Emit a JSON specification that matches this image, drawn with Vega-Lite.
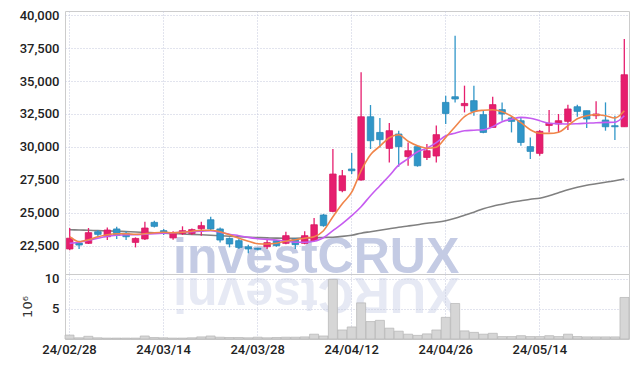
{
  "$schema": "https://vega.github.io/schema/vega-lite/v6.json",
  "padding": {"left": 18, "top": 8, "right": 8, "bottom": 4},
  "background": "white",
  "bounds": "flush",
  "data": {"values": [
    {"date": "24/02/28", "open": 22250, "high": 23850, "low": 22150, "close": 23070, "ma5": 23183, "ma20": 22675, "ma60": 23715, "vol": 0.65},
    {"date": "24/02/29", "open": 22700, "high": 22880, "low": 22250, "close": 22550, "ma5": 22804, "ma20": 22766, "ma60": 23692, "vol": 0.2},
    {"date": "24/03/04", "open": 22680, "high": 23840, "low": 22630, "close": 23490, "ma5": 22956, "ma20": 22918, "ma60": 23669, "vol": 0.45},
    {"date": "24/03/05", "open": 23560, "high": 23690, "low": 23130, "close": 23360, "ma5": 23183, "ma20": 23069, "ma60": 23646, "vol": 0.2},
    {"date": "24/03/06", "open": 23180, "high": 23890, "low": 22930, "close": 23690, "ma5": 23335, "ma20": 23221, "ma60": 23624, "vol": 0.15},
    {"date": "24/03/07", "open": 23770, "high": 23940, "low": 23010, "close": 23280, "ma5": 23411, "ma20": 23297, "ma60": 23601, "vol": 0.15},
    {"date": "24/03/08", "open": 23430, "high": 23590, "low": 22930, "close": 23180, "ma5": 23411, "ma20": 23335, "ma60": 23570, "vol": 0.15},
    {"date": "24/03/11", "open": 22750, "high": 23130, "low": 22370, "close": 23050, "ma5": 23373, "ma20": 23335, "ma60": 23540, "vol": 0.15},
    {"date": "24/03/12", "open": 23010, "high": 24320, "low": 22930, "close": 23840, "ma5": 23411, "ma20": 23373, "ma60": 23510, "vol": 0.5},
    {"date": "24/03/13", "open": 24270, "high": 24400, "low": 23890, "close": 23970, "ma5": 23487, "ma20": 23411, "ma60": 23479, "vol": 0.25},
    {"date": "24/03/14", "open": 23640, "high": 23770, "low": 23310, "close": 23430, "ma5": 23525, "ma20": 23449, "ma60": 23449, "vol": 0.2},
    {"date": "24/03/15", "open": 23090, "high": 23590, "low": 22960, "close": 23430, "ma5": 23487, "ma20": 23487, "ma60": 23419, "vol": 0.15},
    {"date": "24/03/18", "open": 23430, "high": 23970, "low": 23310, "close": 23640, "ma5": 23525, "ma20": 23525, "ma60": 23388, "vol": 0.15},
    {"date": "24/03/19", "open": 23430, "high": 23810, "low": 23310, "close": 23720, "ma5": 23601, "ma20": 23563, "ma60": 23358, "vol": 0.2},
    {"date": "24/03/20", "open": 23790, "high": 24320, "low": 23260, "close": 24020, "ma5": 23677, "ma20": 23601, "ma60": 23328, "vol": 0.35},
    {"date": "24/03/21", "open": 24470, "high": 24700, "low": 23690, "close": 23770, "ma5": 23677, "ma20": 23639, "ma60": 23290, "vol": 0.5},
    {"date": "24/03/22", "open": 23770, "high": 23890, "low": 22750, "close": 22930, "ma5": 23563, "ma20": 23525, "ma60": 23259, "vol": 0.3},
    {"date": "24/03/25", "open": 23050, "high": 23130, "low": 22370, "close": 22630, "ma5": 23335, "ma20": 23373, "ma60": 23221, "vol": 0.25},
    {"date": "24/03/26", "open": 22880, "high": 23010, "low": 22250, "close": 22370, "ma5": 23069, "ma20": 23259, "ma60": 23183, "vol": 0.25},
    {"date": "24/03/27", "open": 22420, "high": 22580, "low": 21920, "close": 22250, "ma5": 22842, "ma20": 23130, "ma60": 23145, "vol": 0.2},
    {"date": "24/03/28", "open": 22300, "high": 22350, "low": 22150, "close": 22230, "ma5": 22652, "ma20": 23031, "ma60": 23115, "vol": 0.3},
    {"date": "24/03/29", "open": 22420, "high": 22990, "low": 22250, "close": 22730, "ma5": 22629, "ma20": 22978, "ma60": 23092, "vol": 0.2},
    {"date": "24/04/01", "open": 22880, "high": 22920, "low": 22420, "close": 22500, "ma5": 22690, "ma20": 22933, "ma60": 23077, "vol": 0.25},
    {"date": "24/04/02", "open": 22680, "high": 23560, "low": 22610, "close": 23260, "ma5": 22842, "ma20": 22842, "ma60": 23069, "vol": 0.3},
    {"date": "24/04/03", "open": 23010, "high": 23070, "low": 22250, "close": 22580, "ma5": 22956, "ma20": 22766, "ma60": 23069, "vol": 0.3},
    {"date": "24/04/04", "open": 22680, "high": 23590, "low": 22610, "close": 23260, "ma5": 23069, "ma20": 22766, "ma60": 23085, "vol": 0.35},
    {"date": "24/04/05", "open": 22880, "high": 24600, "low": 22800, "close": 24090, "ma5": 23183, "ma20": 22842, "ma60": 23100, "vol": 0.8},
    {"date": "24/04/08", "open": 24830, "high": 24910, "low": 23940, "close": 24020, "ma5": 23639, "ma20": 23107, "ma60": 23123, "vol": 0.5},
    {"date": "24/04/09", "open": 25100, "high": 29840, "low": 25040, "close": 27940, "ma5": 24702, "ma20": 23639, "ma60": 23145, "vol": 9.9},
    {"date": "24/04/11", "open": 26680, "high": 28250, "low": 26550, "close": 27810, "ma5": 25689, "ma20": 24170, "ma60": 23206, "vol": 1.5},
    {"date": "24/04/12", "open": 28320, "high": 29540, "low": 27940, "close": 28190, "ma5": 26562, "ma20": 24778, "ma60": 23297, "vol": 2.0},
    {"date": "24/04/15", "open": 27490, "high": 35660, "low": 27440, "close": 32290, "ma5": 28194, "ma20": 25461, "ma60": 23449, "vol": 6.0},
    {"date": "24/04/16", "open": 32290, "high": 33180, "low": 29840, "close": 30470, "ma5": 29409, "ma20": 26296, "ma60": 23563, "vol": 2.9},
    {"date": "24/04/17", "open": 31100, "high": 32200, "low": 29960, "close": 30550, "ma5": 30054, "ma20": 27055, "ma60": 23677, "vol": 3.1},
    {"date": "24/04/18", "open": 29890, "high": 31820, "low": 28820, "close": 31230, "ma5": 30699, "ma20": 27814, "ma60": 23791, "vol": 1.8},
    {"date": "24/04/19", "open": 30980, "high": 31230, "low": 28500, "close": 30020, "ma5": 30927, "ma20": 28612, "ma60": 23905, "vol": 1.3},
    {"date": "24/04/22", "open": 29260, "high": 30340, "low": 28570, "close": 29710, "ma5": 30434, "ma20": 29105, "ma60": 23996, "vol": 0.8},
    {"date": "24/04/23", "open": 30020, "high": 30090, "low": 28500, "close": 28570, "ma5": 30092, "ma20": 29636, "ma60": 24094, "vol": 0.6},
    {"date": "24/04/24", "open": 29200, "high": 30220, "low": 29010, "close": 29710, "ma5": 29902, "ma20": 29902, "ma60": 24208, "vol": 0.85},
    {"date": "24/04/25", "open": 29310, "high": 31630, "low": 28820, "close": 30930, "ma5": 29978, "ma20": 30320, "ma60": 24284, "vol": 1.5},
    {"date": "24/04/26", "open": 33380, "high": 33890, "low": 31740, "close": 32540, "ma5": 30722, "ma20": 30851, "ma60": 24398, "vol": 3.6},
    {"date": "24/04/29", "open": 33810, "high": 38440, "low": 33380, "close": 33640, "ma5": 31534, "ma20": 31041, "ma60": 24588, "vol": 5.9},
    {"date": "24/04/30", "open": 33130, "high": 34650, "low": 32620, "close": 33300, "ma5": 32294, "ma20": 31231, "ma60": 24816, "vol": 1.35},
    {"date": "24/05/02", "open": 33510, "high": 34650, "low": 32370, "close": 32700, "ma5": 32673, "ma20": 31269, "ma60": 25043, "vol": 1.1},
    {"date": "24/05/03", "open": 32450, "high": 32750, "low": 31040, "close": 31100, "ma5": 32787, "ma20": 31307, "ma60": 25309, "vol": 0.8},
    {"date": "24/05/07", "open": 31480, "high": 33810, "low": 31460, "close": 33210, "ma5": 32825, "ma20": 31534, "ma60": 25499, "vol": 0.95},
    {"date": "24/05/08", "open": 32830, "high": 33380, "low": 31990, "close": 32500, "ma5": 32673, "ma20": 31914, "ma60": 25651, "vol": 0.4},
    {"date": "24/05/09", "open": 32200, "high": 32290, "low": 31100, "close": 31940, "ma5": 32332, "ma20": 32104, "ma60": 25803, "vol": 0.4},
    {"date": "24/05/10", "open": 31990, "high": 32200, "low": 30090, "close": 30340, "ma5": 31838, "ma20": 32241, "ma60": 25916, "vol": 0.55},
    {"date": "24/05/13", "open": 30020, "high": 30720, "low": 29080, "close": 29660, "ma5": 31307, "ma20": 32180, "ma60": 26030, "vol": 0.4},
    {"date": "24/05/14", "open": 29510, "high": 31280, "low": 29330, "close": 31180, "ma5": 31041, "ma20": 31990, "ma60": 26106, "vol": 0.4},
    {"date": "24/05/16", "open": 31630, "high": 32800, "low": 31100, "close": 31790, "ma5": 31026, "ma20": 31800, "ma60": 26296, "vol": 0.55},
    {"date": "24/05/17", "open": 31740, "high": 32500, "low": 31100, "close": 31990, "ma5": 31117, "ma20": 31762, "ma60": 26524, "vol": 0.4},
    {"date": "24/05/20", "open": 31940, "high": 33210, "low": 31280, "close": 32880, "ma5": 31610, "ma20": 31740, "ma60": 26752, "vol": 0.8},
    {"date": "24/05/21", "open": 33050, "high": 33210, "low": 32290, "close": 32700, "ma5": 32142, "ma20": 31762, "ma60": 26941, "vol": 0.4},
    {"date": "24/05/22", "open": 32750, "high": 32750, "low": 31440, "close": 32120, "ma5": 32370, "ma20": 31800, "ma60": 27093, "vol": 0.35},
    {"date": "24/05/23", "open": 32370, "high": 33460, "low": 32120, "close": 32500, "ma5": 32446, "ma20": 31838, "ma60": 27207, "vol": 0.35},
    {"date": "24/05/24", "open": 32040, "high": 33380, "low": 31230, "close": 31530, "ma5": 32370, "ma20": 31861, "ma60": 27321, "vol": 0.35},
    {"date": "24/05/27", "open": 31610, "high": 32370, "low": 30530, "close": 31530, "ma5": 32195, "ma20": 31876, "ma60": 27435, "vol": 0.35},
    {"date": "24/05/28", "open": 31530, "high": 38190, "low": 31530, "close": 35480, "ma5": 32749, "ma20": 32370, "ma60": 27564, "vol": 6.9}
  ]},
  "vconcat": [
    {
      "width": 564,
      "height": 263,
      "encoding": {
        "x": {
          "field": "date", "type": "ordinal",
          "scale": {"paddingInner": 0, "paddingOuter": 0},
          "axis": {"values": ["24/02/28", "24/03/14", "24/03/28", "24/04/12", "24/04/26", "24/05/14"], "labels": false, "title": null, "grid": true, "bandPosition": 0.5}
        }
      },
      "layer": [
        {
          "data": {"values": [{"label": "investCRUX"}]},
          "mark": {"type": "text", "align": "left", "baseline": "alphabetic", "font": "Liberation Sans", "fontWeight": "bold", "fontSize": 50, "color": "#c4cbe4"},
          "encoding": {
            "x": {"datum": "24/03/15", "type": "ordinal"},
            "y": {
              "datum": 20450, "type": "quantitative",
              "scale": {"domain": [20350, 40320], "nice": false, "zero": false},
              "axis": {"values": [22500, 25000, 27500, 30000, 32500, 35000, 37500, 40000], "tickCount": 20, "format": ",d", "title": null, "grid": true}
            },
            "text": {"field": "label"}
          }
        },
        {
          "data": {"values": [{"label": "XURCtsevni"}]},
          "mark": {"type": "text", "align": "right", "baseline": "alphabetic", "angle": 180, "font": "Liberation Sans", "fontWeight": "bold", "fontSize": 50, "color": "#c6cde6", "opacity": 0.42},
          "encoding": {
            "x": {"datum": "24/03/15", "type": "ordinal"},
            "y": {"datum": 20070, "type": "quantitative"},
            "text": {"field": "label"}
          }
        },
        {
          "mark": {"type": "line", "color": "#808080", "strokeWidth": 1.6, "interpolate": "monotone"},
          "encoding": {"y": {"field": "ma60", "type": "quantitative"}}
        },
        {
          "mark": {"type": "rule", "strokeWidth": 1.3},
          "encoding": {
            "y": {"field": "low", "type": "quantitative"},
            "y2": {"field": "high"},
            "color": {"condition": {"test": "datum.close >= datum.open", "value": "#e61e6e"}, "value": "#3096c8"}
          }
        },
        {
          "mark": {"type": "bar", "size": 6.5, "strokeWidth": 0.8},
          "encoding": {
            "y": {"field": "open", "type": "quantitative"},
            "y2": {"field": "close"},
            "color": {"condition": {"test": "datum.close >= datum.open", "value": "#e61e6e"}, "value": "#3096c8"},
            "stroke": {"condition": {"test": "datum.close >= datum.open", "value": "#d81862"}, "value": "#2a88b8"}
          }
        },
        {
          "mark": {"type": "line", "color": "#c65cf0", "strokeWidth": 1.6, "interpolate": "monotone"},
          "encoding": {"y": {"field": "ma20", "type": "quantitative"}}
        },
        {
          "mark": {"type": "line", "color": "#f0854a", "strokeWidth": 1.6, "interpolate": "monotone"},
          "encoding": {"y": {"field": "ma5", "type": "quantitative"}}
        }
      ]
    },
    {
      "width": 564,
      "height": 65,
      "mark": {"type": "bar", "color": "#d6d6d6", "stroke": "#b4b4b4", "strokeWidth": 0.7},
      "encoding": {
        "x": {
          "field": "date", "type": "ordinal",
          "scale": {"paddingInner": 0.04, "paddingOuter": 0},
          "axis": {"values": ["24/02/28", "24/03/14", "24/03/28", "24/04/12", "24/04/26", "24/05/14"], "title": null, "grid": true, "labelAngle": 0, "bandPosition": 0.5, "labelPadding": 4}
        },
        "y": {
          "field": "vol", "type": "quantitative",
          "scale": {"domain": [0, 10.8], "nice": false},
          "axis": {"values": [5, 10], "tickCount": 10, "title": "10⁶", "titleFontWeight": "normal", "titleFontSize": 13, "titleColor": "#333333", "titleFont": "DejaVu Sans", "titlePadding": 10}
        }
      }
    }
  ],
  "resolve": {"scale": {"y": "independent"}},
  "spacing": 0,
  "config": {
    "view": {"stroke": "#cccccc", "strokeWidth": 1},
    "axis": {
      "domain": false, "ticks": false, "labelOverlap": false,
      "gridColor": "#c4c8dc", "gridDash": [1, 2], "gridWidth": 1,
      "labelFont": "Roboto", "labelFontWeight": 500,
      "labelFontSize": 13, "labelColor": "#222222", "labelPadding": 6
    }
  }
}
